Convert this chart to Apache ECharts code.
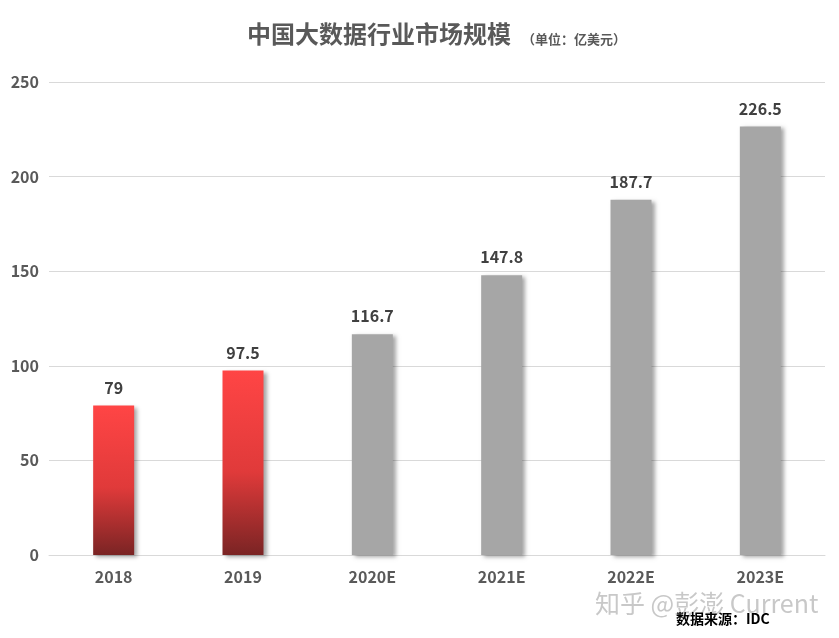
<!DOCTYPE html>
<html><head><meta charset="utf-8">
<script src="https://cdn.jsdelivr.net/npm/echarts@6/dist/echarts.min.js"></script>
<style>html,body{margin:0;padding:0;background:#fff}#c{width:839px;height:638px}</style>
</head><body><div id="c"></div>
<script>
const categories = ['2018','2019','2020E','2021E','2022E','2023E'];
const values = [79, 97.5, 116.7, 147.8, 187.7, 226.5];
const isActual = [true, true, false, false, false, false];
const yTicks = [0, 50, 100, 150, 200, 250];

const font = '"Microsoft YaHei","Noto Sans CJK SC","Noto Sans",sans-serif';
const redGrad = new echarts.graphic.LinearGradient(0,0,0,1,[{offset:0,color:'#ff4545'},{offset:0.55,color:'#e03a3a'},{offset:1,color:'#7a2424'}]);
const chart = echarts.init(document.getElementById('c'));
chart.setOption({
  animation:false,
  title:[
    {text:'中国大数据行业市场规模',left:242,top:17,textStyle:{fontFamily:font,fontSize:24,fontWeight:'bold',color:'#595959'}},
    {text:'（单位：亿美元）',left:517,top:28,textStyle:{fontFamily:font,fontSize:13,fontWeight:'bold',color:'#595959'}}
  ],
  graphic:[
    {type:'text',left:595,top:591,style:{text:'知乎 @彭澎 Current',font:'25px '+font,fill:'#c8c8c8'}},
    {type:'text',left:676,top:612,style:{text:'数据来源：IDC',font:'bold 14px '+font,fill:'#000'}}
  ],
  grid:{left:49,right:14,top:82,bottom:83},
  xAxis:{type:'category',data:categories,axisTick:{show:false},
    axisLine:{show:true,lineStyle:{color:'#d9d9d9'}},
    axisLabel:{margin:14,fontFamily:font,fontSize:16,fontWeight:'bold',color:'#595959'}},
  yAxis:{type:'value',min:yTicks[0],max:yTicks[yTicks.length-1],interval:50,
    axisLine:{show:false},axisTick:{show:false},
    splitLine:{lineStyle:{color:'#d9d9d9'}},
    axisLabel:{margin:10,fontFamily:font,fontSize:16,fontWeight:'bold',color:'#595959',
      formatter:v=>yTicks.includes(v)?String(v):''}},
  series:[{type:'bar',barWidth:41,
    data:values.map((v,i)=>({value:v,itemStyle:{color:isActual[i]?redGrad:'#a6a6a6',
      shadowColor:'rgba(0,0,0,0.35)',shadowBlur:4,shadowOffsetX:3,shadowOffsetY:2}})),
    label:{show:true,position:'top',distance:10,fontFamily:font,fontSize:16,fontWeight:'bold',color:'#404040'}
  }]
});
</script></body></html>
